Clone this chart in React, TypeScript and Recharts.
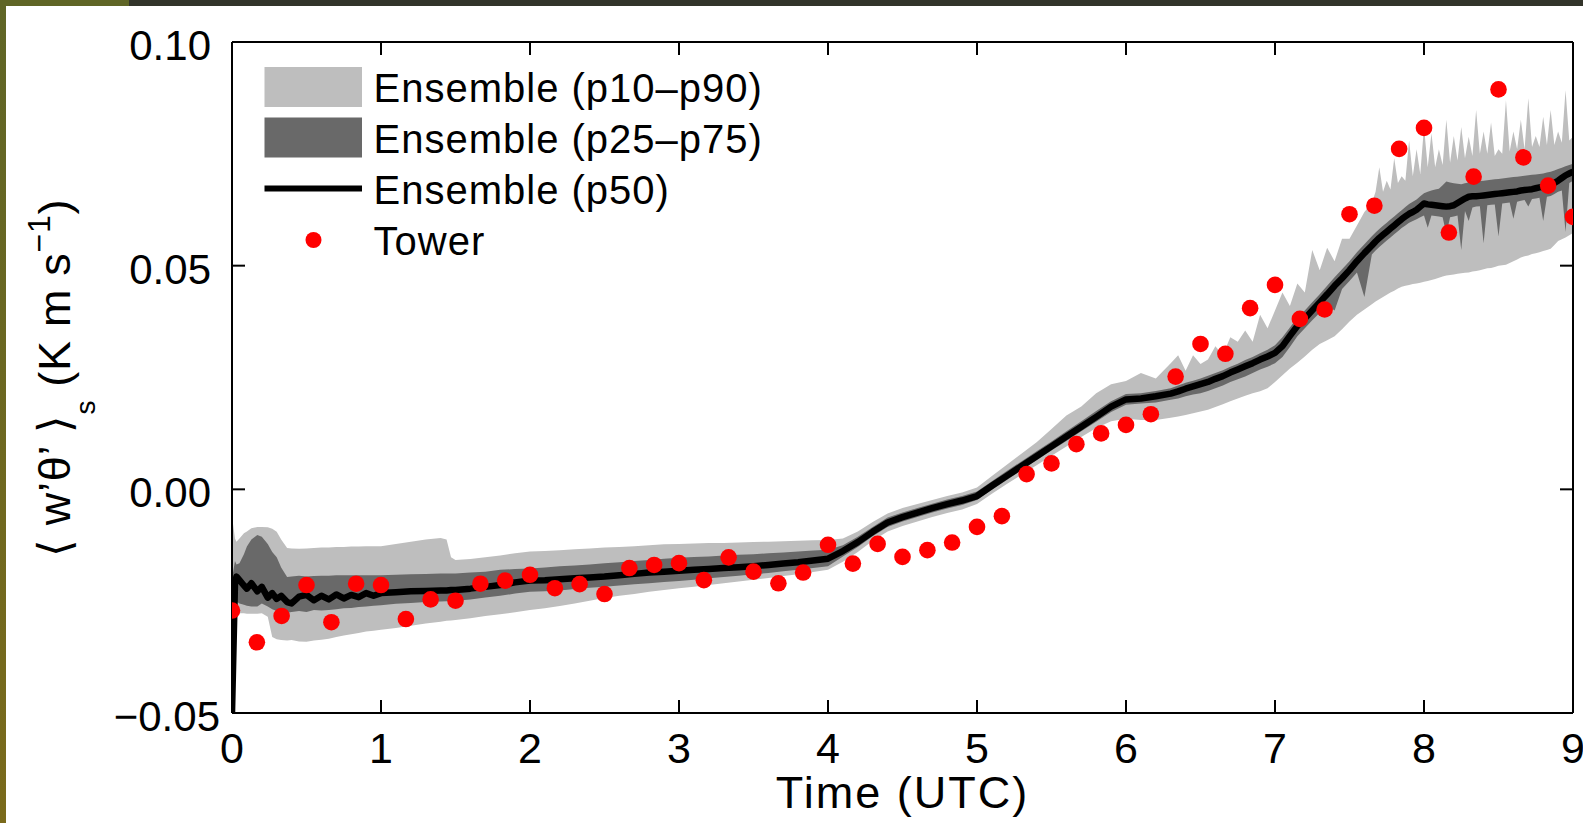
import React from 'react';
import { ComposedChart, Area, Line, Scatter, XAxis, YAxis, Legend } from 'recharts';

const FONT = '"Liberation Sans", Arial, Helvetica, sans-serif';

// time (UTC hours) of the ensemble percentile series
const TIME = [
  0, 0.02, 0.03, 0.05, 0.08, 0.1, 0.13, 0.17, 0.2, 0.24, 0.27, 0.3, 0.33, 0.37, 0.4, 0.45, 0.5,
  0.55, 0.6, 0.65, 0.7, 0.75, 0.8, 0.85, 0.9, 0.95, 1.0, 1.1, 1.2, 1.3, 1.4, 1.44, 1.47, 1.5,
  1.6, 1.7, 1.8, 1.9, 2.0, 2.1, 2.2, 2.3, 2.4, 2.5, 2.6, 2.7, 2.8, 2.9, 3.0, 3.1, 3.2, 3.3, 3.4,
  3.5, 3.6, 3.7, 3.8, 3.9, 4.0,
  4.1, 4.2, 4.3, 4.4, 4.5, 4.6, 4.7, 4.8, 4.9, 5.0, 5.1, 5.2, 5.3, 5.4, 5.5, 5.6, 5.7, 5.8, 5.9,
  6.0, 6.1, 6.2, 6.3,
  6.35, 6.4, 6.45, 6.5, 6.55, 6.6, 6.65, 6.7, 6.75, 6.8, 6.85, 6.9, 6.95, 7.0, 7.05, 7.1, 7.15,
  7.2, 7.25, 7.3, 7.35, 7.4, 7.45, 7.5, 7.55, 7.6,
  7.65, 7.675, 7.7, 7.725, 7.75, 7.775, 7.8, 7.825, 7.85, 7.875, 7.9, 7.925, 7.95, 7.975, 8.0,
  8.025, 8.05, 8.075, 8.1, 8.125, 8.15, 8.175, 8.2, 8.225, 8.25, 8.275, 8.3, 8.325, 8.35, 8.375,
  8.4, 8.425, 8.45, 8.475, 8.5, 8.525, 8.55, 8.575, 8.6, 8.625, 8.65, 8.675, 8.7, 8.725, 8.75,
  8.775, 8.8, 8.825, 8.85, 8.875, 8.9, 8.925, 8.95, 8.975, 9.0,
];

const P10 = [
  -0.028, -0.028, -0.028, -0.0277, -0.0277, -0.0278, -0.0278, -0.0278, -0.0277, -0.0285, -0.033,
  -0.0335, -0.0337, -0.0338, -0.0337, -0.034, -0.0341, -0.0338, -0.0336, -0.0334, -0.033, -0.0327,
  -0.0324, -0.0321, -0.0318, -0.0316, -0.0314, -0.031, -0.0305, -0.03, -0.0296, -0.0294, -0.0293,
  -0.0292,
  -0.0288, -0.0283, -0.0279, -0.0275, -0.027, -0.0266, -0.0261, -0.0255, -0.0249, -0.0243, -0.0238,
  -0.0234, -0.0229, -0.0225, -0.0221, -0.0218, -0.0214, -0.021, -0.0206, -0.0202, -0.0198, -0.0194,
  -0.019, -0.0185, -0.018,
  -0.0162, -0.014, -0.0115, -0.0094, -0.0082, -0.0072, -0.0062, -0.0053, -0.0045, -0.0033, -0.001,
  0.0012, 0.0033, 0.0054, 0.0075, 0.0096, 0.0117, 0.0137, 0.0152, 0.0158, 0.0155, 0.0155, 0.016,
  0.0163, 0.0166, 0.017, 0.0174, 0.0178, 0.0184, 0.019, 0.0197, 0.0203, 0.0209, 0.0215, 0.0219,
  0.0226, 0.024, 0.0255, 0.027, 0.0283, 0.0297, 0.0312, 0.0325, 0.0333, 0.0342, 0.0358, 0.0375,
  0.039, 0.0402,
  0.0414, 0.042, 0.0425, 0.043, 0.0435, 0.044, 0.0444, 0.0449, 0.0453, 0.0455, 0.0457, 0.0459,
  0.046, 0.0462, 0.0464, 0.0466, 0.0468, 0.047, 0.0473, 0.0476, 0.0478, 0.0479, 0.048, 0.0482,
  0.0483, 0.0484, 0.0485, 0.0487, 0.0488, 0.049, 0.0492, 0.0494, 0.0495, 0.0497, 0.05, 0.0501,
  0.0502, 0.0506, 0.051, 0.0514, 0.0518, 0.0521, 0.0523, 0.0526, 0.0528, 0.053, 0.0533, 0.0535,
  0.0538, 0.0546, 0.0555, 0.0559, 0.0563, 0.0568, 0.0573,
];

const P25 = [
  -0.026, -0.025, -0.025, -0.0255, -0.0258, -0.026, -0.0262, -0.0262, -0.0255, -0.0262, -0.0268,
  -0.0272, -0.0275, -0.0276, -0.0274, -0.0272, -0.0274, -0.027, -0.0271, -0.027, -0.0268, -0.0266,
  -0.0265, -0.0263, -0.0262, -0.026, -0.0259, -0.0256, -0.0254, -0.0252, -0.0251, -0.025, -0.025,
  -0.0249,
  -0.0246, -0.0242, -0.0238, -0.0233, -0.0229, -0.0228, -0.0226, -0.0223, -0.022, -0.0218, -0.0215,
  -0.0212, -0.021, -0.0207, -0.0205, -0.0202, -0.0199, -0.0196, -0.0193, -0.019, -0.0187, -0.0183,
  -0.018, -0.0176, -0.0172,
  -0.015, -0.0129, -0.0105, -0.0084, -0.0072, -0.0062, -0.0052, -0.0043, -0.0035, -0.0024, -0.0001,
  0.0021, 0.0043, 0.0065, 0.0087, 0.0108, 0.013, 0.0151, 0.0173, 0.0189, 0.0192, 0.0194, 0.02,
  0.0203, 0.0208, 0.0212, 0.0215, 0.022, 0.0226, 0.0232, 0.024, 0.0246, 0.0252, 0.026, 0.0268,
  0.0274, 0.0282, 0.0296, 0.0318, 0.0342, 0.036, 0.0378, 0.0395, 0.0412, 0.04, 0.0448, 0.0466,
  0.0485, 0.043,
  0.0525, 0.0534, 0.0542, 0.0549, 0.0556, 0.0563, 0.057, 0.0577, 0.0584, 0.059, 0.0596, 0.06,
  0.0604, 0.0608, 0.0612, 0.0585, 0.0612, 0.0611, 0.061, 0.0608, 0.057, 0.0608, 0.061, 0.0612,
  0.0535, 0.0622, 0.06, 0.063, 0.0632, 0.0633, 0.055, 0.0635, 0.0636, 0.0637, 0.0565, 0.0639,
  0.064, 0.0641, 0.0605, 0.0643, 0.0645, 0.0647, 0.0632, 0.0649, 0.065, 0.0652, 0.06, 0.0654,
  0.0656, 0.066, 0.0665, 0.0668, 0.0575, 0.0685, 0.069,
];

const P50 = [
  -0.05, -0.021, -0.0195, -0.0203, -0.0215, -0.0222, -0.021, -0.0228, -0.0218, -0.0242, -0.0232,
  -0.0245, -0.0238, -0.0252, -0.0255, -0.024, -0.0236, -0.0248, -0.0238, -0.0246, -0.0235, -0.0244,
  -0.0236, -0.0241, -0.0232, -0.0238, -0.0232, -0.023, -0.0228, -0.0227, -0.0226, -0.0226, -0.0225,
  -0.0225,
  -0.0222, -0.0218, -0.0214, -0.0208, -0.0204, -0.0203, -0.0201, -0.0199, -0.0197, -0.0195, -0.0192,
  -0.0189, -0.0186, -0.0184, -0.0182, -0.018, -0.0178, -0.0176, -0.0174, -0.0172, -0.0169, -0.0166,
  -0.0163, -0.0159, -0.0155,
  -0.0138, -0.0118, -0.0095, -0.0074, -0.0062, -0.0052, -0.0042, -0.0033, -0.0025, -0.0015, 0.0008,
  0.003, 0.0052, 0.0074, 0.0096, 0.0118, 0.014, 0.0162, 0.0185, 0.0201, 0.0203, 0.0208, 0.0214,
  0.0219, 0.0225, 0.023, 0.0235, 0.024, 0.0247, 0.0253, 0.0261, 0.0268, 0.0275, 0.0282, 0.029,
  0.0297, 0.0305, 0.032, 0.0343, 0.0365, 0.0382, 0.04, 0.0418, 0.0436, 0.0455, 0.0472, 0.049,
  0.051, 0.0528,
  0.0545, 0.0554, 0.0562, 0.0569, 0.0576, 0.0583, 0.059, 0.0597, 0.0604, 0.061, 0.0616, 0.062,
  0.0625, 0.0632, 0.0639, 0.0637, 0.0636, 0.0635, 0.0634, 0.0633, 0.0632, 0.0633, 0.0635, 0.064,
  0.0645, 0.065, 0.0654, 0.0655, 0.0655, 0.0656, 0.0657, 0.0658, 0.0659, 0.066, 0.0661, 0.0662,
  0.0663, 0.0664, 0.0665, 0.0666, 0.0668, 0.0669, 0.067, 0.0671, 0.0673, 0.0675, 0.0676, 0.0678,
  0.068, 0.0685, 0.069, 0.0696, 0.0702, 0.0706, 0.071,
];

const P75 = [
  -0.02, -0.016, -0.0168, -0.0165, -0.0145, -0.0128, -0.0112, -0.0102, -0.0106, -0.0122, -0.014,
  -0.0152, -0.0175, -0.0196, -0.0195, -0.0193, -0.0195, -0.0194, -0.0193, -0.0193, -0.0192, -0.0192,
  -0.0192, -0.0192, -0.0192, -0.0192, -0.0192, -0.0191, -0.019, -0.0189, -0.0188, -0.0188, -0.0188,
  -0.0188,
  -0.0186, -0.0184, -0.018, -0.0178, -0.0177, -0.0175, -0.0172, -0.017, -0.0168, -0.0165, -0.0163,
  -0.016, -0.0158, -0.0155, -0.0153, -0.0151, -0.015, -0.0148, -0.0146, -0.0145, -0.0143, -0.0141,
  -0.0139, -0.0137, -0.0135,
  -0.0125, -0.0106, -0.0084, -0.0063, -0.0052, -0.0042, -0.0032, -0.0023, -0.0015, -0.0005, 0.0018,
  0.0041, 0.0063, 0.0085, 0.0107, 0.013, 0.0152, 0.0175, 0.0197, 0.0213, 0.0215, 0.022, 0.0226,
  0.0232, 0.0238, 0.0243, 0.0248, 0.0254, 0.026, 0.0266, 0.0274, 0.0281, 0.0289, 0.0296, 0.0304,
  0.0312, 0.0322, 0.034, 0.0362, 0.0384, 0.04, 0.0418, 0.0436, 0.0455, 0.0474, 0.0492, 0.051,
  0.053, 0.0548,
  0.0566, 0.0574, 0.0582, 0.0589, 0.0596, 0.0603, 0.061, 0.0617, 0.0624, 0.0631, 0.0638, 0.0643,
  0.0648, 0.0655, 0.0662, 0.0665, 0.0668, 0.067, 0.0672, 0.068, 0.0688, 0.0686, 0.0684, 0.0683,
  0.0682, 0.0684, 0.0686, 0.0687, 0.0688, 0.0689, 0.069, 0.0691, 0.0692, 0.0693, 0.0694, 0.0695,
  0.0696, 0.0697, 0.0698, 0.0699, 0.07, 0.0701, 0.0702, 0.0703, 0.0704, 0.0705, 0.0706, 0.0708,
  0.071, 0.0713, 0.0716, 0.0719, 0.0722, 0.0725, 0.0728,
];

const P90 = [
  -0.006, -0.011, -0.0117, -0.011, -0.0098, -0.0094, -0.0087, -0.0084, -0.0084, -0.0085, -0.0088,
  -0.0095, -0.0112, -0.0131, -0.0132, -0.0133, -0.0132, -0.0131, -0.013, -0.013, -0.0129, -0.0129,
  -0.0128, -0.0128, -0.0127, -0.0127, -0.0127, -0.0122, -0.0117, -0.0112, -0.0109, -0.0112, -0.0152,
  -0.0158,
  -0.0156, -0.0152, -0.0148, -0.0143, -0.0139, -0.0138, -0.0136, -0.0134, -0.0132, -0.013, -0.0129,
  -0.0127, -0.0125, -0.0123, -0.0122, -0.0121, -0.012, -0.012, -0.0119, -0.0118, -0.0117, -0.0116,
  -0.0115, -0.0114, -0.0113,
  -0.011, -0.0094, -0.0073, -0.0054, -0.0042, -0.0033, -0.0024, -0.0015, -0.0007, 0.0004, 0.003,
  0.0055, 0.008, 0.0105, 0.0135, 0.0165, 0.0185, 0.0215, 0.0235, 0.0242, 0.026, 0.0248, 0.0282,
  0.03, 0.0265, 0.03, 0.028, 0.029, 0.032, 0.03, 0.034, 0.033, 0.0355, 0.033, 0.039,
  0.036, 0.04, 0.044, 0.041, 0.046, 0.044, 0.0535, 0.049, 0.054, 0.051, 0.056, 0.056,
  0.059, 0.062,
  0.064, 0.0665, 0.072, 0.0665, 0.069, 0.067, 0.074, 0.0685, 0.07, 0.069, 0.078, 0.07,
  0.076, 0.0705, 0.081, 0.072, 0.0796, 0.072, 0.076, 0.0725, 0.0826, 0.073, 0.079, 0.0735,
  0.081, 0.074, 0.0788, 0.0745, 0.0848, 0.075, 0.08, 0.075, 0.082, 0.0745, 0.076, 0.075,
  0.087, 0.0755, 0.08, 0.076, 0.0826, 0.076, 0.0874, 0.0765, 0.079, 0.0765, 0.0833, 0.077,
  0.0848, 0.077, 0.08, 0.0775, 0.0892, 0.078, 0.0788,
];

// tower observations every 10 minutes
const TOWER_T = [
  0, 0.167, 0.333, 0.5, 0.667, 0.833, 1, 1.167, 1.333, 1.5, 1.667, 1.833, 2, 2.167, 2.333, 2.5,
  2.667, 2.833, 3, 3.167, 3.333, 3.5, 3.667, 3.833, 4, 4.167, 4.333, 4.5, 4.667, 4.833, 5, 5.167,
  5.333, 5.5, 5.667, 5.833, 6, 6.167, 6.333, 6.5, 6.667, 6.833, 7, 7.167, 7.333, 7.5, 7.667,
  7.833, 8, 8.167, 8.333, 8.5, 8.667, 8.833, 9,
];
const TOWER_V = [
  -0.0271, -0.0342, -0.0283, -0.0214, -0.0297, -0.0211, -0.0214, -0.029, -0.0246, -0.0249, -0.0211,
  -0.0204, -0.0191, -0.0221, -0.0212, -0.0234, -0.0176, -0.0169, -0.0165, -0.0203, -0.0152, -0.0184,
  -0.021, -0.0186, -0.0124, -0.0166, -0.0122, -0.0151, -0.0136, -0.0119, -0.0084, -0.006, 0.0034,
  0.0058, 0.0101, 0.0125, 0.0144, 0.0168, 0.0252, 0.0325, 0.0303, 0.0405, 0.0457, 0.0381, 0.0402,
  0.0615, 0.0634, 0.0761, 0.0808, 0.0574, 0.0699, 0.0894, 0.0742, 0.0679, 0.0609,
];

const X_TICKS = [0, 1, 2, 3, 4, 5, 6, 7, 8, 9];
const Y_TICKS = [-0.05, 0, 0.05, 0.1];
const LEGEND_LABELS = ['Ensemble (p10\u2013p90)', 'Ensemble (p25\u2013p75)', 'Ensemble (p50)', 'Tower'];

const bands = TIME.map((t, i) => ({
  t,
  outer: [P10[i], P90[i]],
  inner: [P25[i], P75[i]],
  p50: P50[i],
}));
const tower = TOWER_T.map((t, i) => ({ t, v: TOWER_V[i] }));

const LIGHT = '#bebebe';
const DARK = '#696969';
const RED = '#ff0000';

const fmtY = (v: number) => (v < 0 ? '\u2212' + Math.abs(v).toFixed(2) : v.toFixed(2));

const YTick = (props: any) => {
  const { x, y, payload } = props;
  const v = payload.value as number;
  return (
    <text
      x={x + (v < -0.04 ? 9 : 0)}
      y={y + 3}
      dy="0.355em"
      textAnchor="end"
      fontSize={42}
      fontFamily={FONT}
      fill="#000"
    >
      {fmtY(v)}
    </text>
  );
};

const YLabel = () => (
  <text
    x={70}
    y={378}
    transform="rotate(-90 70 378)"
    textAnchor="middle"
    fontSize={45}
    fontFamily={FONT}
    fill="#000"
    letterSpacing={0.7}
    style={{ whiteSpace: 'pre' }}
  >
    <tspan>{'\u27E8 w\u2019\u03B8\u2019 \u27E9'}</tspan>
    <tspan fontSize={28} dy={25}>s</tspan>
    <tspan dy={-25}>{' (K m s'}</tspan>
    <tspan fontSize={32} dy={-20}>{'\u22121'}</tspan>
    <tspan dy={20}>)</tspan>
  </text>
);

const LegendBox = () => (
  <svg width={800} height={280} style={{ position: 'absolute', left: 0, top: 0 }}>
    <rect x={264.5} y={67} width={97.5} height={40} fill={LIGHT} />
    <rect x={264.5} y={117.5} width={97.5} height={40} fill={DARK} />
    <line x1={264.5} x2={362} y1={188.5} y2={188.5} stroke="#000" strokeWidth={6} />
    <circle cx={313.5} cy={240} r={8} fill={RED} />
    {LEGEND_LABELS.map((s, i) => (
      <text key={s} x={373.5} y={101.7 + i * 51.1} fontSize={40} letterSpacing={1} fontFamily={FONT} fill="#000">
        {s}
      </text>
    ))}
  </svg>
);

const Dot = (props: any) => <circle cx={props.cx} cy={props.cy} r={8.3} fill={RED} />;

export default function App() {
  const tickStyle = { fontSize: 43, fill: '#000', fontFamily: FONT };
  return (
    <div style={{ position: 'fixed', left: 0, top: 0, width: 1583, height: 823, background: '#fff', overflow: 'hidden' }}>
      <div style={{ position: 'absolute', left: 0, top: 0 }}>
        <ComposedChart width={1583} height={823} data={bands} margin={{ top: 41, right: 9, bottom: 0, left: 0 }}>
          <XAxis
            dataKey="t"
            type="number"
            domain={[0, 9]}
            ticks={X_TICKS}
            interval={0}
            height={110}
            tickSize={-13}
            tickMargin={32}
            stroke="#000"
            strokeWidth={2}
            tick={tickStyle}
            allowDataOverflow
            label={{ value: 'Time (UTC)', position: 'insideBottom', offset: 15, fontSize: 45, fill: '#000', fontFamily: FONT, letterSpacing: 2 }}
          />
          <XAxis
            xAxisId="top"
            dataKey="t"
            orientation="top"
            type="number"
            domain={[0, 9]}
            ticks={X_TICKS}
            interval={0}
            height={1}
            tickSize={-13}
            stroke="#000"
            strokeWidth={2}
            tickFormatter={() => ''}
            allowDataOverflow
          />
          <YAxis
            type="number"
            domain={[-0.05, 0.1]}
            ticks={Y_TICKS}
            interval={0}
            width={232}
            tickSize={-13}
            tickMargin={34}
            stroke="#000"
            strokeWidth={2}
            tick={<YTick />}
            allowDataOverflow
            label={<YLabel />}
          />
          <YAxis
            yAxisId="right"
            orientation="right"
            type="number"
            domain={[-0.05, 0.1]}
            ticks={Y_TICKS}
            interval={0}
            width={1}
            tickSize={-13}
            stroke="#000"
            strokeWidth={2}
            tickFormatter={() => ''}
            allowDataOverflow
          />
          <Area dataKey="outer" type="linear" stroke="none" fill={LIGHT} fillOpacity={1} isAnimationActive={false} />
          <Area dataKey="inner" type="linear" stroke="none" fill={DARK} fillOpacity={1} isAnimationActive={false} />
          <Line dataKey="p50" type="linear" stroke="#000" strokeWidth={6.5} dot={false} strokeLinejoin="round" isAnimationActive={false} />
          <Scatter xAxisId="top" data={tower} dataKey="v" fill={RED} shape={Dot} isAnimationActive={false} />
          <Legend
            verticalAlign="middle"
            align="center"
            layout="horizontal"
            content={() => <LegendBox />}
            wrapperStyle={{ left: 0, top: 0, width: 800, height: 280 }}
          />
        </ComposedChart>
      </div>
      <div style={{ position: 'absolute', left: 0, top: 0, width: 129, height: 6, background: '#5f6526' }} />
      <div style={{ position: 'absolute', left: 129, top: 0, width: 1454, height: 6, background: '#32342a' }} />
      <div style={{ position: 'absolute', left: 0, top: 0, width: 6, height: 823, background: 'linear-gradient(#5f6526, #7a6a1b)' }} />
    </div>
  );
}
